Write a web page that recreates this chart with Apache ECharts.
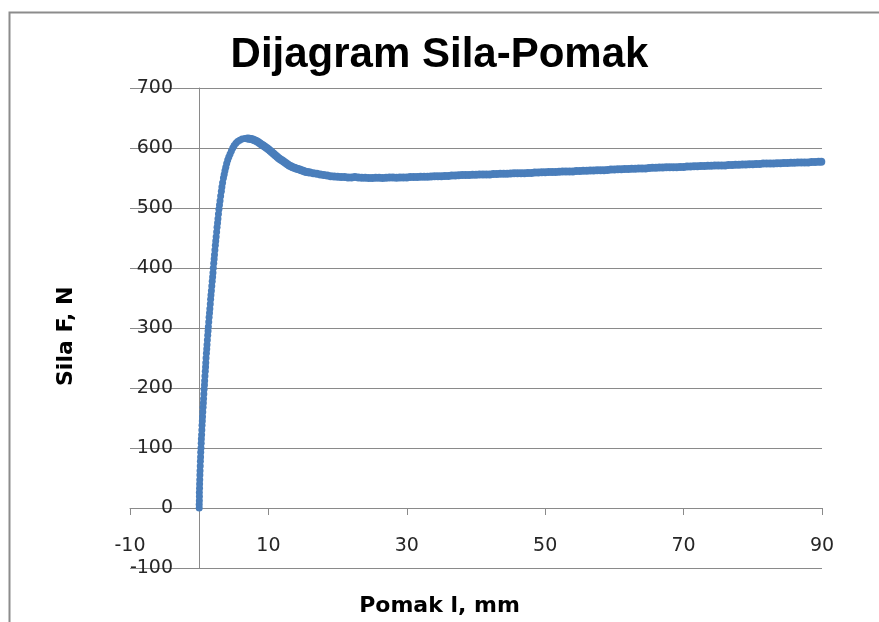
<!DOCTYPE html>
<html>
<head>
<meta charset="utf-8">
<script src="https://cdn.jsdelivr.net/npm/echarts@6/dist/echarts.min.js"></script>
<style>html,body{margin:0;padding:0;background:#fff;}#chart{width:879px;height:622px;}</style>
</head>
<body>
<div id="chart"></div>
<script>
// Pomak l (mm), Sila F (N)
const risePoints = [[0.00,0],[0.00,6],[0.02,12],[0.03,19],[0.02,26],[0.05,33],[0.06,40],[0.08,47],[0.10,55],[0.12,62],[0.15,70],[0.17,78],[0.20,85],[0.22,93],[0.26,100],[0.29,108],[0.31,115],[0.35,122],[0.38,130],[0.41,138],[0.45,145],[0.48,152],[0.52,160],[0.56,168],[0.60,175],[0.63,182],[0.67,190],[0.71,198],[0.76,205],[0.79,212],[0.83,220],[0.88,228],[0.92,235],[0.95,242],[0.99,250],[1.04,258],[1.09,265],[1.13,272],[1.18,280],[1.23,288],[1.28,295],[1.32,302],[1.38,310],[1.43,318],[1.49,325],[1.54,332],[1.60,340],[1.65,348],[1.70,355],[1.76,362],[1.82,370],[1.88,378],[1.94,385],[1.99,392],[2.04,400],[2.10,408],[2.16,415],[2.21,422],[2.27,430],[2.33,438],[2.39,445],[2.45,452],[2.52,460],[2.58,468],[2.65,475],[2.71,482],[2.78,490],[2.85,498],[2.93,505],[3.01,512],[3.10,520],[3.20,528],[3.28,535],[3.38,542],[3.50,550],[3.61,556],[3.72,562],[3.84,568],[3.97,574],[4.12,580],[4.28,585],[4.46,590],[4.65,595],[4.85,600],[5.05,604],[5.30,608],[5.55,611],[5.85,613],[6.20,615],[6.60,616]];
const peakPoints = [[7.0,616],[7.25,615.5],[7.5,615],[7.75,614],[8.0,613],[8.25,611.5],[8.5,610],[8.75,608],[9.0,606],[9.25,604],[9.5,602],[9.75,600],[10.0,598],[10.25,595.5],[10.5,593],[10.75,590.5],[11.0,588],[11.25,585.5],[11.5,583],[11.75,581],[12.0,579],[12.25,577],[12.5,575],[12.75,573],[13.0,571],[13.25,569.5],[13.5,568],[13.75,567],[14.0,566],[14.25,565],[14.5,564],[14.75,563],[15.0,562],[15.25,561],[15.5,560],[15.75,559.5],[16.0,559],[16.5,558],[17.0,557],[17.5,556],[18.0,555],[18.5,554]];
const plateauPoints = [[19,553],[19.5,552.5],[20,552],[20.5,551.5],[21,551.5],[21.5,551],[22,551],[22.5,551.5],[23,551],[23.5,550.5],[24,550.5],[24.5,550],[25,550],[25.5,550.5],[26,550.5],[26.5,550],[27,550.5],[27.5,551],[28,551],[28.5,550.5],[29,551],[29.5,551],[30,551],[30.5,551.5],[31,551.5],[31.5,551.5],[32,552],[32.5,552],[33,552],[33.5,552.5],[34,553],[34.5,553],[35,553],[35.5,553.5],[36,553.5],[36.5,554],[37,554],[37.5,554.5],[38,555],[38.5,555],[39,555],[39.5,555.5],[40,555.5],[40.5,556],[41,556],[41.5,556],[42,556],[42.5,556.5],[43,556.5],[43.5,557],[44,557],[44.5,557],[45,557.5],[45.5,558],[46,558],[46.5,558],[47,558],[47.5,558.5],[48,558.5],[48.5,559],[49,559],[49.5,559.5],[50,559.5],[50.5,560],[51,560],[51.5,560],[52,560.5],[52.5,561],[53,561],[53.5,561],[54,561],[54.5,561.5],[55,561.5],[55.5,562],[56,562],[56.5,562.5],[57,562.5],[57.5,563],[58,563],[58.5,563],[59,563.5],[59.5,564],[60,564],[60.5,564.5],[61,564.5],[61.5,565],[62,565],[62.5,565.5],[63,565.5],[63.5,566],[64,566],[64.5,566],[65,566.5],[65.5,567],[66,567],[66.5,567.5],[67,567.5],[67.5,568],[68,568],[68.5,568],[69,568],[69.5,568.5],[70,568.5],[70.5,569],[71,569],[71.5,569.5],[72,569.5],[72.5,570],[73,570],[73.5,570.5],[74,570.5],[74.5,571],[75,571],[75.5,571],[76,571],[76.5,571.5],[77,571.5],[77.5,572],[78,572],[78.5,572.5],[79,572.5],[79.5,573],[80,573],[80.5,573.5],[81,573.5],[81.5,574],[82,574],[82.5,574],[83,574],[83.5,574.5],[84,574.5],[84.5,575],[85,575],[85.5,575.5],[86,575.5],[86.5,576],[87,576],[87.5,576],[88,576],[88.5,576.5],[89,576.5],[89.5,577],[89.9,577]];

const titleText = 'Dijagram Sila-Pomak';
const xName = 'Pomak l, mm';
const yName = 'Sila F, N';

const chart = echarts.init(document.getElementById('chart'));
const gridColor = '#8a8a8a';
chart.setOption({
  animation: false,
  title: {
    text: titleText, left: 'center', top: 29,
    textStyle: { fontFamily: 'Liberation Sans, Arial, sans-serif', fontWeight: 'bold', fontSize: 42, color: '#000' }
  },
  graphic: [
    { type: 'rect', left: 7, top: 10, shape: { width: 1000, height: 1000 }, style: { fill: 'none', stroke: '#8c8c8c', lineWidth: 2 } },
    { type: 'text', left: 'center', top: 595, style: { text: xName, font: 'bold 22px "DejaVu Sans"', fill: '#000' } },
    { type: 'text', x: 55, y: 386, rotation: Math.PI / 2, style: { text: yName, font: 'bold 22px "DejaVu Sans"', fill: '#000' } }
  ],
  grid: { left: 130, top: 88, width: 692, height: 480 },
  xAxis: {
    type: 'value', min: -10, max: 90, interval: 20,
    axisLine: { onZero: true, lineStyle: { color: gridColor, width: 1 } },
    axisTick: { show: true, length: 7, lineStyle: { color: gridColor } },
    axisLabel: { margin: -31, fontFamily: 'DejaVu Sans', fontSize: 19, color: '#262626' },
    splitLine: { show: false }
  },
  yAxis: {
    type: 'value', min: -100, max: 700, interval: 100,
    axisLine: { show: true, onZero: true, lineStyle: { color: gridColor, width: 1 } },
    axisTick: { show: false },
    axisLabel: { margin: -43, fontFamily: 'DejaVu Sans', fontSize: 19, color: '#262626' },
    splitLine: { show: true, lineStyle: { color: gridColor, width: 1 } }
  },
  series: [
    { type: 'scatter', data: risePoints, symbolSize: 7, itemStyle: { color: '#4A7EBB', opacity: 1 } },
    { type: 'scatter', data: peakPoints, symbolSize: 8, itemStyle: { color: '#4A7EBB', opacity: 1 } },
    { type: 'scatter', data: plateauPoints, symbolSize: 8, itemStyle: { color: '#4A7EBB', opacity: 1 } }
  ]
});
</script>
</body>
</html>
